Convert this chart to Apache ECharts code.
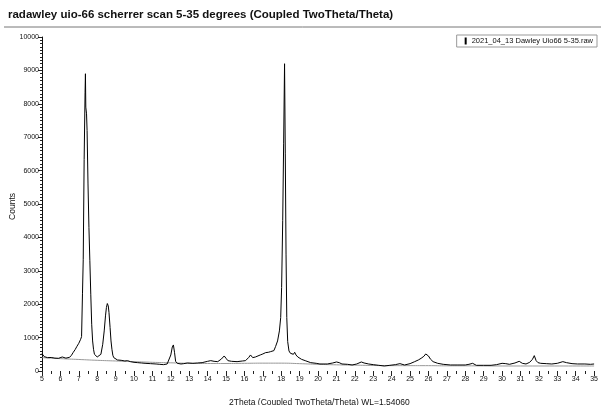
<!DOCTYPE html>
<html>
<head>
<meta charset="utf-8">
<script src="https://cdn.jsdelivr.net/npm/echarts@6/dist/echarts.min.js"></script>
<style>
  html, body { margin: 0; padding: 0; background: #fff; }
  #chart { width: 601px; height: 405px; }
</style>
</head>
<body>
<div id="chart"></div>
<script>
// scan: [2theta, counts]
const scanPoints = [
  [5.00, 520], [5.05, 470], [5.12, 430], [5.2, 410], [5.3, 400], [5.4, 395], [5.5, 405],
  [5.6, 390], [5.7, 385], [5.8, 395], [5.9, 380], [6.0, 390], [6.1, 420], [6.2, 400],
  [6.3, 385], [6.4, 380], [6.5, 410], [6.6, 470], [6.7, 560], [6.8, 640], [6.9, 740],
  [7.0, 830], [7.05, 880], [7.1, 950], [7.15, 1030], [7.2, 2330], [7.24, 3330],
  [7.29, 6330], [7.34, 8330], [7.36, 8900], [7.38, 7900], [7.42, 7700], [7.45, 7200],
  [7.5, 5600], [7.55, 4300], [7.6, 3300], [7.65, 2300], [7.7, 1400], [7.75, 900],
  [7.8, 650], [7.85, 500], [7.9, 450], [8.0, 420], [8.1, 440], [8.2, 500],
  [8.3, 800], [8.38, 1200], [8.45, 1650], [8.5, 1900], [8.55, 2020], [8.6, 1950],
  [8.64, 1750], [8.7, 1300], [8.75, 900], [8.8, 650], [8.85, 470], [8.9, 400], [9.0, 360],
  [9.1, 330], [9.2, 345], [9.3, 320], [9.4, 330], [9.5, 300], [9.65, 310], [9.8, 280],
  [10.0, 260], [10.1, 275], [10.2, 250], [10.4, 240], [10.5, 255], [10.6, 230], [10.9, 220],
  [11.0, 235], [11.2, 210], [11.4, 200], [11.5, 215], [11.6, 190], [11.8, 210],
  [11.9, 260], [12.0, 480], [12.08, 720], [12.14, 780], [12.2, 560], [12.26, 290],
  [12.35, 230], [12.55, 210], [12.7, 220], [12.9, 240], [13.2, 230], [13.45, 240],
  [13.7, 250], [14.0, 290], [14.17, 310], [14.35, 290], [14.55, 280], [14.75, 360],
  [14.9, 450], [15.0, 380], [15.1, 310], [15.3, 290], [15.6, 280], [15.9, 300], [16.06, 310],
  [16.24, 410], [16.33, 480], [16.45, 400], [16.6, 420], [16.86, 480], [17.0, 510],
  [17.15, 550], [17.3, 560], [17.42, 580], [17.6, 610], [17.69, 730], [17.8, 900],
  [17.9, 1200], [17.97, 1600], [18.02, 2500], [18.08, 4500], [18.13, 6800], [18.18, 9200],
  [18.22, 6500], [18.26, 3500], [18.3, 1600], [18.35, 880], [18.42, 600], [18.5, 530],
  [18.58, 480], [18.66, 500], [18.73, 560], [18.8, 480], [18.9, 420], [19.1, 350],
  [19.3, 310], [19.6, 250], [19.9, 230], [20.1, 210], [20.5, 210], [20.8, 240], [21.0, 270],
  [21.15, 250], [21.3, 210], [21.6, 200], [21.85, 180], [22.1, 210], [22.35, 270],
  [22.5, 240], [22.75, 210], [23.0, 190], [23.3, 170], [23.6, 150], [23.9, 170], [24.2, 190],
  [24.45, 220], [24.7, 180], [25.0, 220], [25.25, 280], [25.45, 330], [25.6, 380],
  [25.75, 440], [25.85, 510], [25.93, 530], [26.0, 450], [26.1, 360], [26.25, 280],
  [26.5, 230], [26.8, 200], [27.2, 180], [27.6, 180], [28.0, 180], [28.2, 200], [28.4, 230],
  [28.6, 170], [29.0, 170], [29.4, 170], [29.7, 190], [30.0, 230], [30.2, 220], [30.4, 200],
  [30.7, 240], [30.93, 290], [31.1, 230], [31.3, 210], [31.5, 260], [31.65, 350],
  [31.75, 460], [31.85, 310], [31.95, 250], [32.1, 230], [32.4, 220], [32.7, 210],
  [33.0, 230], [33.3, 280], [33.5, 250], [33.8, 220], [34.1, 210], [34.5, 210], [34.8, 200],
  [35.0, 210]
];

// grey background curve under the scan
const backgroundPoints = [
  [5, 400], [6, 370], [7, 345], [8, 320], [9, 300], [10, 280], [11, 260], [12, 245],
  [13, 230], [14, 225], [15, 225], [16, 230], [17, 235], [18, 235], [19, 220], [20, 200],
  [21, 185], [22, 175], [23, 165], [24, 160], [25, 160], [26, 160], [27, 155], [28, 155],
  [30, 150], [32, 150], [35, 150]
];

const xRange = [5, 35];
const yRange = [0, 10000];

const titleText = "radawley uio-66 scherrer scan 5-35 degrees (Coupled TwoTheta/Theta)";
const seriesName = "2021_04_13 Dawley Uio66 5-35.raw";
const xName = "2Theta (Coupled TwoTheta/Theta) WL=1.54060";
const yName = "Counts";

const chart = echarts.init(document.getElementById("chart"), null, { renderer: "canvas" });
const fontFamily = "Liberation Sans, Arial, sans-serif";

chart.setOption({
  animation: false,
  backgroundColor: "#fff",
  textStyle: { fontFamily },
  title: {
    text: titleText,
    left: 3,
    top: 4,
    textStyle: { fontSize: 11.5, fontWeight: "bold", color: "#111", fontFamily }
  },
  graphic: [
    {
      type: "line",
      shape: { x1: 4, y1: 27, x2: 601, y2: 27 },
      style: { stroke: "#777", lineWidth: 1 }
    },
    {
      type: "text",
      left: 229,
      top: 398,
      style: { text: xName, fontSize: 8.5, fill: "#111", fontFamily }
    },
    {
      type: "text",
      left: 8,
      top: 193,
      rotation: Math.PI / 2,
      style: { text: yName, fontSize: 8.5, fill: "#111", fontFamily }
    }
  ],
  legend: {
    right: 4,
    top: 35,
    data: [seriesName],
    icon: "rect",
    itemWidth: 2,
    itemHeight: 7,
    itemGap: 4,
    padding: [2, 4, 2, 8],
    borderColor: "#999",
    borderWidth: 1,
    backgroundColor: "#fff",
    textStyle: { fontSize: 7.5, color: "#111", fontFamily }
  },
  grid: { left: 42, right: 6, top: 37, bottom: 34, containLabel: false },
  xAxis: {
    type: "value",
    min: xRange[0],
    max: xRange[1],
    interval: 1,
    axisLine: { show: true, lineStyle: { color: "transparent" } },
    axisTick: { show: true, length: 5, lineStyle: { color: "#222" } },
    minorTick: { show: true, splitNumber: 2, length: 3, lineStyle: { color: "#222" } },
    splitLine: { show: false },
    axisLabel: { fontSize: 7, color: "#111", margin: 5 }
  },
  yAxis: {
    type: "value",
    min: yRange[0],
    max: yRange[1],
    interval: 1000,
    axisLine: { show: true, lineStyle: { color: "#111" } },
    axisTick: { show: true, length: 4, lineStyle: { color: "#222" } },
    minorTick: { show: true, splitNumber: 10, length: 2, lineStyle: { color: "#222" } },
    splitLine: { show: false },
    axisLabel: { fontSize: 7, color: "#111", margin: 3, formatter: v => String(v) }
  },
  series: [
    {
      name: "background",
      type: "line",
      data: backgroundPoints,
      showSymbol: false,
      symbol: "none",
      smooth: true,
      lineStyle: { color: "#999", width: 1 },
      silent: true,
      z: 1
    },
    {
      name: seriesName,
      type: "line",
      data: scanPoints,
      showSymbol: false,
      symbol: "none",
      itemStyle: { color: "#000" },
      lineStyle: { color: "#000", width: 1 },
      z: 2
    }
  ]
});
</script>
</body>
</html>
